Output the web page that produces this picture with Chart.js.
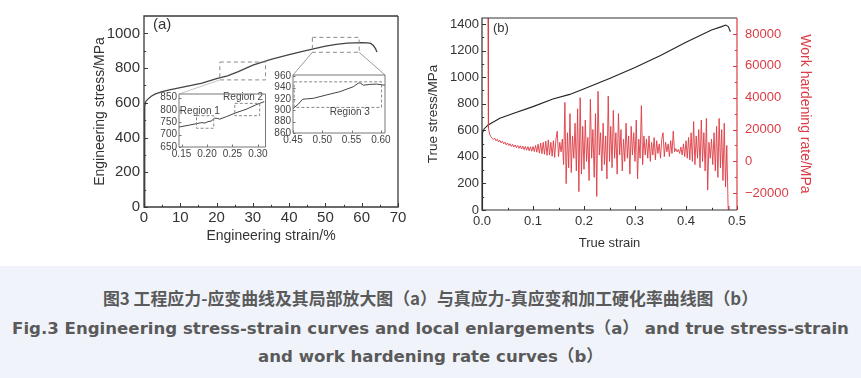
<!DOCTYPE html>
<html>
<head>
<meta charset="utf-8">
<script src="https://cdn.jsdelivr.net/npm/chart.js@4/dist/chart.umd.min.js"></script>
<style>
body { margin: 0; width: 861px; height: 378px; overflow: hidden; background: #fff; position: relative; }
canvas { position: absolute; }
#caption { position: absolute; left: 0; top: 266px; width: 861px; height: 112px; background: #f0f4fa; color: #5a5a5a; }
#caption div { position: absolute; left: 0; width: 861px; text-align: center; white-space: nowrap; line-height: 20px; font-weight: bold; }
.zh { font-family: "Noto Sans CJK SC", sans-serif; font-size: 16.9px; }
.en { font-family: "DejaVu Sans", "Noto Sans CJK SC", sans-serif; font-size: 16.6px; }
</style>
</head>
<body>
<canvas id="chartA" width="330" height="255" style="left:90px;top:0px"></canvas>
<canvas id="inset1" width="130" height="78" style="left:145px;top:84px"></canvas>
<canvas id="inset2" width="130" height="82" style="left:262px;top:66px"></canvas>
<canvas id="chartB" width="441" height="260" style="left:420px;top:0px"></canvas>
<div id="caption">
  <div class="zh" style="top:22px">图3 工程应力-应变曲线及其局部放大图（a）与真应力-真应变和加工硬化率曲线图（b）</div>
  <div class="en" style="top:53px">Fig.3 Engineering stress-strain curves and local enlargements（a） and true stress-strain</div>
  <div class="en" style="top:81px">and work hardening rate curves（b）</div>
</div>
<script>
// ---- (a) engineering stress-strain, strain in %
const engStrain = [0, 0.2, 0.5, 1, 2, 3, 5, 7, 10, 13, 16, 20, 23, 26, 30, 35, 40, 44, 47, 50, 53, 56, 58, 60, 61.5, 62.5, 63.2, 63.8, 64.2];
const engStress = [0, 580, 608, 620, 638, 650, 664, 675, 688, 700, 714, 740, 755, 780, 817, 850, 877, 898, 912, 926, 936, 944, 945, 946, 945, 942, 930, 912, 893];
const engXTicks = [0, 10, 20, 30, 40, 50, 60, 70];
const engYTicks = [0, 200, 400, 600, 800, 1000];
// dashed zoom boxes on (a): [x0, x1, y0, y1]
const engBox1 = [20.9, 33.5, 732, 835];
const engBox2 = [46.4, 59.3, 891, 977];

// ---- inset 1 (strain as fraction)
const zoom1Strain = [0.145, 0.166, 0.1825, 0.19, 0.196, 0.202, 0.208, 0.215, 0.22, 0.225, 0.238, 0.257, 0.277, 0.296, 0.3125];
const zoom1Stress = [731, 739, 746, 749, 747, 753, 755, 767, 766, 763, 773, 789, 803, 821, 834];
const zoom1XTicks = [0.15, 0.20, 0.25, 0.30];
const zoom1YTicks = [650, 700, 750, 800, 850];
const region1Box = [0.1794, 0.2133, 726, 777];
const region2Box = [0.2546, 0.3036, 777, 827];

// ---- inset 2
const zoom2Strain = [0.45, 0.459, 0.4665, 0.473, 0.4847, 0.5075, 0.53, 0.553, 0.561, 0.5643, 0.570, 0.581, 0.593, 0.607];
const zoom2Stress = [903, 910.7, 919.4, 920, 921, 927, 932.7, 941.4, 947.3, 948.4, 944, 945.5, 946, 944];
const zoom2XTicks = [0.45, 0.50, 0.55, 0.60];
const zoom2YTicks = [860, 880, 900, 920, 940, 960];
const region3Box = [0.452, 0.601, 905, 950];

// ---- (b) true stress-strain
const trueStrain = [0, 0.001, 0.004, 0.012, 0.035, 0.061, 0.1, 0.139, 0.172, 0.198, 0.25, 0.3, 0.35, 0.4, 0.45, 0.47, 0.478, 0.483, 0.487];
const trueStress = [0, 580, 610, 640, 690, 727, 778, 835, 870, 908, 990, 1072, 1162, 1262, 1355, 1380, 1392, 1380, 1342];
const trueXTicks = [0, 0.1, 0.2, 0.3, 0.4, 0.5];
const trueYTicks = [0, 200, 400, 600, 800, 1000, 1200, 1400];

// ---- (b) work hardening rate
const hardStrain = [
  0.0118, 0.0122, 0.0126, 0.013, 0.015, 0.0175, 0.02,
  0.0225, 0.025, 0.0275, 0.03, 0.0325, 0.035, 0.0375, 0.04, 0.0425, 0.045, 0.0475, 0.05, 0.0525, 0.055, 0.0575, 0.06,
  0.0625, 0.065, 0.0675, 0.07, 0.0725, 0.075, 0.0775, 0.08, 0.0825, 0.085, 0.0875, 0.09, 0.0925, 0.095, 0.0975, 0.1,
  0.1025, 0.105, 0.1075, 0.11, 0.1125, 0.115, 0.1175, 0.12, 0.1225, 0.125, 0.1275, 0.13, 0.1325, 0.135, 0.1375, 0.14, 0.1425, 0.145,
  0.1475, 0.15, 0.1525, 0.155, 0.1575, 0.16, 0.1625, 0.165, 0.1675, 0.17, 0.1725, 0.175, 0.1775, 0.18, 0.1825, 0.185, 0.1875, 0.19, 0.1925, 0.195, 0.1975, 0.2,
  0.2025, 0.205, 0.2075, 0.21, 0.2125, 0.215, 0.2175, 0.22, 0.2225, 0.225, 0.2275, 0.23, 0.2325, 0.235, 0.2375, 0.24,
  0.2425, 0.245, 0.2475, 0.25, 0.2525, 0.255, 0.2575, 0.26, 0.2625, 0.265, 0.2675, 0.27, 0.2725, 0.275, 0.2775, 0.28,
  0.2825, 0.285, 0.2875, 0.29, 0.2925, 0.295, 0.2975, 0.3, 0.3025, 0.305, 0.3075, 0.31, 0.3125, 0.315, 0.3175, 0.32,
  0.3225, 0.325, 0.3275, 0.33, 0.3325, 0.335, 0.3375, 0.34, 0.3425, 0.345, 0.3475, 0.35, 0.3525, 0.355, 0.3575, 0.36,
  0.3625, 0.365, 0.3675, 0.37, 0.3725, 0.375, 0.3775, 0.38, 0.3825, 0.385,
  0.3875, 0.39, 0.3925, 0.395, 0.3975, 0.4, 0.4025, 0.405, 0.4075, 0.41, 0.4125, 0.415, 0.4175, 0.42, 0.4225, 0.425,
  0.4275, 0.43, 0.4325, 0.435, 0.4375, 0.44, 0.4425, 0.445,
  0.4475, 0.45, 0.4525, 0.455, 0.4575, 0.46, 0.4625, 0.465, 0.4675, 0.47, 0.4725, 0.475, 0.4775, 0.48, 0.4825, 0.484
];
const hardRate = [
  95000, 60000, 30000, 21000, 17000, 15500, 14500,
  13800, 14600, 12900, 13900, 12200, 13300, 11600, 12700, 11000, 12100, 10400, 11600, 9900, 11100, 9400, 10700,
  9000, 10300, 8600, 10000, 8200, 9800, 7800, 9600, 7400, 9400, 7000, 9300, 6600, 9200, 6400, 9400,
  6200, 10000, 5800, 10800, 5200, 11500, 4800, 12000, 4500, 12800, 3800, 13500, 4000, 12000, 3200, 13000, 2500, 14000,
  19000, 3000, 12000, 6000, 14000, -2000, 37000, -14000, 18000, -4000, 30000, -7000, 16000, 2000, 24000, -6000, 33000, -19000, 40000, -8000, 22000, -5000,
  26000, 0, 15000, -12000, 39000, 2000, 20000, -10000, 30000, -22000, 44000, 4000, 18000, -6000, 24000, -2000,
  16000, -11000, 41000, 0, 22000, -4000, 32000, 2000, 18000, -8000, 30000, 4000, 20000, -6000, 14000, 0,
  24000, 2000, 16000, -8000, 22000, 4000, 18000, 0, 26000, -11000, 14000, 2000, 35000, -2000, 16000, 4000,
  14000, 2000, 16000, 0, 12000, 4000, 15000, 1000, 13000, 5000, 11000, 2000, 14000, 18000, 3000, 12000,
  6000, 11000, 3000, 13000, 5000, 19000, 6000, 8000, 6000, 7500,
  5000, 9000, 4000, 11000, 3000, 13000, 2000, 15000, 1000, 18000, 0, 25000, -2000, 16000, 2000, 20000,
  -4000, 26000, 0, 18000, -6000, 27000, -18000, 12000,
  2000, 14000, -2000, 18000, -6000, 22000, -10000, 27000, -4000, 20000, -12000, 24000, -16000, 10000, -28000, -34000
];
const hardYTicks = [-20000, 0, 20000, 40000, 60000, 80000];

const RED = '#dc3c44';
const INK = '#333';

Chart.defaults.font.family = "'Liberation Sans', Arial, sans-serif";
Chart.defaults.color = INK;
Chart.defaults.animation = false;

function pts(xs, ys) {
  return xs.map((x, i) => ({ x: x, y: ys[i] }));
}

// force fixed tick values instead of what the scale would pick
function fixTicks(values) {
  return function (scale) { scale.ticks = values.map(v => ({ value: v })); };
}
function fixWidth(w) { return function (scale) { scale.width = w; }; }
function fixHeight(h) { return function (scale) { scale.height = h; }; }
const plain = v => String(v);
const noGrid = { display: false, drawTicks: false };

// inward tick marks, frame, dashed boxes and text notes
const decor = {
  id: 'decor',
  beforeDatasetsDraw(chart, args, o) {
    const a = chart.chartArea, ctx = chart.ctx;
    if (o.fill) {
      ctx.save();
      ctx.fillStyle = o.fill;
      ctx.fillRect(a.left, a.top, a.width, a.height);
      ctx.restore();
    }
  },
  afterDraw(chart, args, o) {
    const a = chart.chartArea, ctx = chart.ctx;
    ctx.save();
    (o.marks || []).forEach(t => {
      const s = chart.scales[t.axis];
      const major = s.ticks.map(k => k.value);
      ctx.strokeStyle = t.color;
      ctx.lineWidth = 1;
      const mark = (v, len) => {
        const p = Math.round(s.getPixelForValue(v)) + 0.5;
        ctx.beginPath();
        if (t.side === 'bottom') { ctx.moveTo(p, a.bottom); ctx.lineTo(p, a.bottom - len); }
        else if (t.side === 'left') { ctx.moveTo(a.left, p); ctx.lineTo(a.left + len, p); }
        else { ctx.moveTo(a.right, p); ctx.lineTo(a.right - len, p); }
        ctx.stroke();
      };
      major.forEach(v => mark(v, t.len));
      if (t.minor) {
        for (let i = 0; i + 1 < major.length; i++) mark((major[i] + major[i + 1]) / 2, t.len * 0.55);
      }
    });
    (o.boxes || []).forEach(b => {
      const xs = chart.scales.x, ys = chart.scales.y;
      const x0 = xs.getPixelForValue(b.box[0]), x1 = xs.getPixelForValue(b.box[1]);
      const y0 = ys.getPixelForValue(b.box[2]), y1 = ys.getPixelForValue(b.box[3]);
      ctx.strokeStyle = b.color;
      ctx.lineWidth = 1;
      ctx.setLineDash(b.dash);
      ctx.strokeRect(x0, y1, x1 - x0, y0 - y1);
      ctx.setLineDash([]);
    });
    (o.notes || []).forEach(n => {
      ctx.font = n.font;
      ctx.fillStyle = n.color;
      ctx.textAlign = n.align || 'center';
      ctx.textBaseline = 'middle';
      let x, y;
      if (n.corner) { x = a.left + n.corner[0]; y = a.top + n.corner[1]; }
      else { x = chart.scales.x.getPixelForValue(n.x); y = chart.scales.y.getPixelForValue(n.y); }
      ctx.fillText(n.text, x, y);
    });
    if (o.links) o.links(chart, ctx);
    if (o.frame) {
      const f = o.frame;
      ctx.lineWidth = f.width;
      ctx.strokeStyle = f.color;
      ctx.beginPath();
      ctx.moveTo(a.right, a.top);
      ctx.lineTo(a.left, a.top);
      ctx.lineTo(a.left, a.bottom);
      ctx.lineTo(a.right, a.bottom);
      if (!f.rightColor) ctx.lineTo(a.right, a.top);
      ctx.stroke();
      if (f.rightColor) {
        ctx.strokeStyle = f.rightColor;
        ctx.beginPath();
        ctx.moveTo(a.right, a.top);
        ctx.lineTo(a.right, a.bottom);
        ctx.stroke();
      }
    }
    ctx.restore();
  }
};

function lineSet(data, color, width, axis) {
  return { data: data, borderColor: color, borderWidth: width, pointRadius: 0, tension: 0, fill: false, yAxisID: axis || 'y' };
}

function insetChart(id, xs, ys, xr, yr, xt, yt, pad, yw, xh, boxes, notes) {
  return new Chart(document.getElementById(id), {
    type: 'line',
    data: { datasets: [lineSet(pts(xs, ys), '#444', 1)] },
    options: {
      responsive: false,
      devicePixelRatio: 1,
      layout: { padding: pad },
      plugins: {
        legend: { display: false }, tooltip: { enabled: false },
        decor: {
          fill: '#fff',
          frame: { color: '#777', width: 1 },
          marks: [{ axis: 'x', side: 'bottom', len: 2.5, color: '#777' }, { axis: 'y', side: 'left', len: 2.5, color: '#777' }],
          boxes: boxes,
          notes: notes
        }
      },
      scales: {
        x: {
          type: 'linear', min: xr[0], max: xr[1],
          afterBuildTicks: fixTicks(xt), afterFit: fixHeight(xh),
          grid: noGrid, border: { display: false },
          ticks: { font: { size: 10 }, padding: 1, maxRotation: 0, autoSkip: false, color: '#444', callback: v => v.toFixed(2) }
        },
        y: {
          min: yr[0], max: yr[1],
          afterBuildTicks: fixTicks(yt), afterFit: fixWidth(yw),
          grid: noGrid, border: { display: false },
          ticks: { font: { size: 10 }, padding: 2, autoSkip: false, color: '#444', callback: plain }
        }
      }
    },
    plugins: [decor]
  });
}

const inset1 = insetChart('inset1', zoom1Strain, zoom1Stress, [0.145, 0.315], [650, 865], zoom1XTicks, zoom1YTicks,
  { top: 10, right: 9.5, left: 0, bottom: 0 }, 34, 15,
  [{ box: region1Box, color: '#888', dash: [3, 2] }, { box: region2Box, color: '#888', dash: [3, 2] }],
  [{ text: 'Region 1', x: 0.186, y: 797, font: '10px "Liberation Sans", Arial', color: '#444' },
   { text: 'Region 2', x: 0.271, y: 851, font: '10px "Liberation Sans", Arial', color: '#444' }]);

const inset2 = insetChart('inset2', zoom2Strain, zoom2Stress, [0.45, 0.607], [860, 962], zoom2XTicks, zoom2YTicks,
  { top: 9, right: 7, left: 0, bottom: 0 }, 31, 15,
  [{ box: region3Box, color: '#888', dash: [3, 2] }],
  [{ text: 'Region 3', x: 0.547, y: 897, font: '10px "Liberation Sans", Arial', color: '#444' }]);

// lines from the dashed boxes in (a) down to the inset frames
function drawLinks(chart, ctx) {
  const me = chart.canvas;
  const xs = chart.scales.x, ys = chart.scales.y;
  const corner = (inset, side) => {
    const c = inset.canvas, a = inset.chartArea;
    return [c.offsetLeft - me.offsetLeft + (side === 'l' ? a.left : a.right), c.offsetTop - me.offsetTop + a.top];
  };
  ctx.strokeStyle = '#9a9a9a';
  ctx.lineWidth = 1;
  const link = (bx, by, p) => {
    ctx.beginPath();
    ctx.moveTo(xs.getPixelForValue(bx), ys.getPixelForValue(by));
    ctx.lineTo(p[0], p[1]);
    ctx.stroke();
  };
  link(engBox2[0], engBox2[2], corner(inset2, 'l'));
  link(engBox2[1], engBox2[2], corner(inset2, 'r'));
  ctx.strokeStyle = '#c4c4c4';
  link(engBox1[0], engBox1[2], corner(inset1, 'l'));
}

new Chart(document.getElementById('chartA'), {
  type: 'line',
  data: { datasets: [lineSet(pts(engStrain, engStress), '#444', 1.3)] },
  options: {
    responsive: false,
    devicePixelRatio: 1,
    layout: { padding: { top: 16, right: 22, left: 0, bottom: 0 } },
    plugins: {
      legend: { display: false }, tooltip: { enabled: false },
      decor: {
        frame: { color: '#3a3a3a', width: 1.3 },
        marks: [{ axis: 'x', side: 'bottom', len: 4, minor: true, color: '#3a3a3a' },
                { axis: 'y', side: 'left', len: 4, minor: true, color: '#3a3a3a' }],
        boxes: [{ box: engBox1, color: '#8a8a8a', dash: [4, 3] }, { box: engBox2, color: '#8a8a8a', dash: [4, 3] }],
        notes: [{ text: '(a)', corner: [9, 9], align: 'left', font: '15px "Liberation Sans", Arial', color: INK }],
        links: drawLinks
      }
    },
    scales: {
      x: {
        type: 'linear', min: 0, max: 70,
        afterBuildTicks: fixTicks(engXTicks), afterFit: fixHeight(48),
        grid: noGrid, border: { display: false },
        ticks: { font: { size: 15 }, padding: 2, maxRotation: 0, autoSkip: false },
        title: { display: true, text: 'Engineering strain/%', font: { size: 14 }, padding: { top: 0, bottom: 10.5 } }
      },
      y: {
        min: 0, max: 1100,
        afterBuildTicks: fixTicks(engYTicks), afterFit: fixWidth(54),
        grid: noGrid, border: { display: false },
        ticks: { font: { size: 15 }, padding: 4, autoSkip: false, callback: plain },
        title: { display: true, text: 'Engineering stress/MPa', font: { size: 14 }, padding: { top: 2, bottom: 0 } }
      }
    }
  },
  plugins: [decor]
});

new Chart(document.getElementById('chartB'), {
  type: 'line',
  data: {
    datasets: [
      lineSet(pts(hardStrain, hardRate), RED, 0.9, 'y1'),
      lineSet(pts(trueStrain, trueStress), '#222', 1.1, 'y')
    ]
  },
  options: {
    responsive: false,
    devicePixelRatio: 1,
    layout: { padding: { top: 18, right: 40, left: 0, bottom: 0 } },
    plugins: {
      legend: { display: false }, tooltip: { enabled: false },
      decor: {
        frame: { color: INK, width: 1.2, rightColor: RED },
        marks: [{ axis: 'x', side: 'bottom', len: 4, minor: true, color: INK },
                { axis: 'y', side: 'left', len: 4, minor: true, color: INK },
                { axis: 'y1', side: 'right', len: 4, minor: true, color: RED }],
        notes: [{ text: '(b)', corner: [11, 10], align: 'left', font: '13px "Liberation Sans", Arial', color: INK }]
      }
    },
    scales: {
      x: {
        type: 'linear', min: 0, max: 0.5,
        afterBuildTicks: fixTicks(trueXTicks), afterFit: fixHeight(50),
        grid: noGrid, border: { display: false },
        ticks: { font: { size: 13 }, padding: 4, maxRotation: 0, autoSkip: false, callback: v => v.toFixed(1) },
        title: { display: true, text: 'True strain', font: { size: 13 }, padding: { top: 0, bottom: 9 } }
      },
      y: {
        position: 'left', min: 0, max: 1445,
        afterBuildTicks: fixTicks(trueYTicks), afterFit: fixWidth(62),
        grid: noGrid, border: { display: false },
        ticks: { font: { size: 13 }, padding: 3, autoSkip: false, callback: plain },
        title: { display: true, text: 'True stress/MPa', font: { size: 13.5 }, padding: { top: 5, bottom: 0 } }
      },
      y1: {
        position: 'right', min: -30500, max: 90000,
        afterBuildTicks: fixTicks(hardYTicks), afterFit: fixWidth(84),
        grid: noGrid, border: { display: false },
        ticks: { font: { size: 13 }, padding: 8, autoSkip: false, color: RED, callback: v => (v < 0 ? '\u2212' + Math.abs(v) : String(v)) },
        title: { display: true, text: 'Work hardening rate/MPa', font: { size: 14 }, color: RED, padding: { top: 8, bottom: 0 } }
      }
    }
  },
  plugins: [decor]
});
</script>
</body>
</html>
